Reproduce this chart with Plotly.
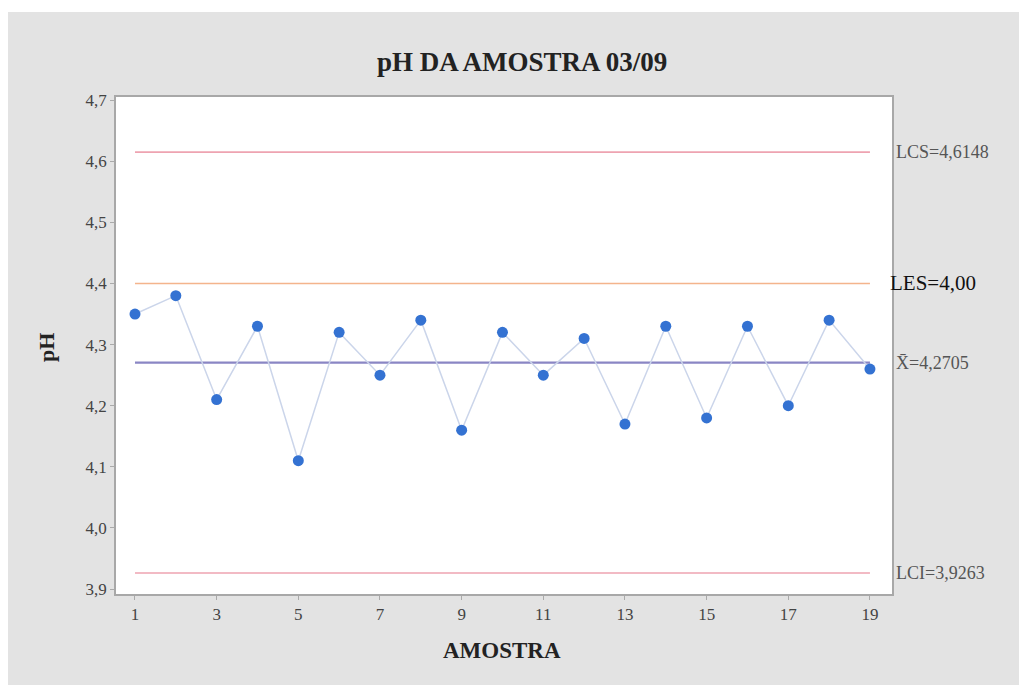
import plotly.graph_objects as go

amostra = list(range(1, 20))
ph = [4.35, 4.38, 4.21, 4.33, 4.11, 4.32, 4.25, 4.34, 4.16, 4.32,
      4.25, 4.31, 4.17, 4.33, 4.18, 4.33, 4.20, 4.34, 4.26]
lcs = 4.6148
les = 4.40
media = 4.2705
lci = 3.9263
x_ticks = [1, 3, 5, 7, 9, 11, 13, 15, 17, 19]
y_ticks = [3.9, 4.0, 4.1, 4.2, 4.3, 4.4, 4.5, 4.6, 4.7]
y_tick_labels = ["3,9", "4,0", "4,1", "4,2", "4,3", "4,4", "4,5", "4,6", "4,7"]
ref_labels = ["LCS=4,6148", "LES=4,00", "X\u0304=4,2705", "LCI=3,9263"]

OFF = 8  # page body margin
W, H = 1027 - OFF, 685 - OFF
L = 116 - OFF
T = 97 - OFF
R = W - (892 - OFF)
B = H - (594 - OFF)
pw, ph_ = W - L - R, H - T - B

def px_x(p):
    return (p - OFF - L) / pw

def px_y(p):
    return (H - (p - OFF) - B) / ph_

fig = go.Figure()

ref_specs = [(lcs, "#eea3b1", 1.6), (les, "#f4b48c", 1.6), (media, "#8a86c4", 2.2), (lci, "#eea3b1", 1.6)]
for val, col, wd in ref_specs:
    fig.add_trace(go.Scatter(x=[amostra[0], amostra[-1]], y=[val, val], mode="lines",
                             line=dict(color=col, width=wd), hoverinfo="skip", showlegend=False))

fig.add_trace(go.Scatter(x=amostra, y=ph, mode="lines+markers",
                         line=dict(color="#cbd5ea", width=1.5),
                         marker=dict(color="#3472d2", size=11),
                         showlegend=False))

serif = "Liberation Serif"
annotations = []
label_vals = [lcs, les, media, lci]
for i, (lab, val) in enumerate(zip(ref_labels, label_vals)):
    if i == 1:
        annotations.append(dict(x=px_x(888), xref="paper", y=val, yref="y", text=lab,
                                showarrow=False, xanchor="left", yanchor="middle",
                                font=dict(family=serif, size=21, color="#111111")))
    else:
        annotations.append(dict(x=px_x(894), xref="paper", y=val, yref="y", text=lab,
                                showarrow=False, xanchor="left", yanchor="middle",
                                font=dict(family=serif, size=18, color="#555555")))

annotations.append(dict(x=px_x(522), xref="paper", y=px_y(62), yref="paper",
                        text="<b>pH DA AMOSTRA 03/09</b>", showarrow=False,
                        xanchor="center", yanchor="middle",
                        font=dict(family=serif, size=27, color="#222222")))
annotations.append(dict(x=px_x(46), xref="paper", y=px_y(348), yref="paper",
                        text="<b>pH</b>", showarrow=False, textangle=-90,
                        xanchor="center", yanchor="middle",
                        font=dict(family=serif, size=22, color="#222222")))
annotations.append(dict(x=px_x(502), xref="paper", y=px_y(650), yref="paper",
                        text="<b>AMOSTRA</b>", showarrow=False,
                        xanchor="center", yanchor="middle",
                        font=dict(family=serif, size=23, color="#222222")))

shapes = [
    dict(type="rect", xref="paper", yref="paper", x0=px_x(-20), x1=px_x(1100),
         y0=px_y(12), y1=px_y(-20), fillcolor="white", line=dict(width=0), layer="below"),
]

fig.update_layout(
    width=W, height=H,
    margin=dict(l=L, r=R, t=T, b=B),
    paper_bgcolor="#e3e3e3",
    plot_bgcolor="white",
    annotations=annotations,
    shapes=shapes,
    xaxis=dict(range=[0.535, 19.54], tickvals=x_ticks, ticktext=[str(v) for v in x_ticks],
               showgrid=False, zeroline=False, showline=True, linecolor="#a8a8a8", linewidth=1.5,
               mirror=True, ticks="outside", ticklen=4, tickcolor="#aaaaaa",
               tickfont=dict(family=serif, size=17, color="#444444")),
    yaxis=dict(range=[3.892, 4.705], tickvals=y_ticks, ticktext=y_tick_labels,
               showgrid=False, zeroline=False, showline=True, linecolor="#a8a8a8", linewidth=1.5,
               mirror=True, ticks="outside", ticklen=4, tickcolor="#aaaaaa",
               tickfont=dict(family=serif, size=17, color="#444444")),
)

fig.write_html("out.html")
